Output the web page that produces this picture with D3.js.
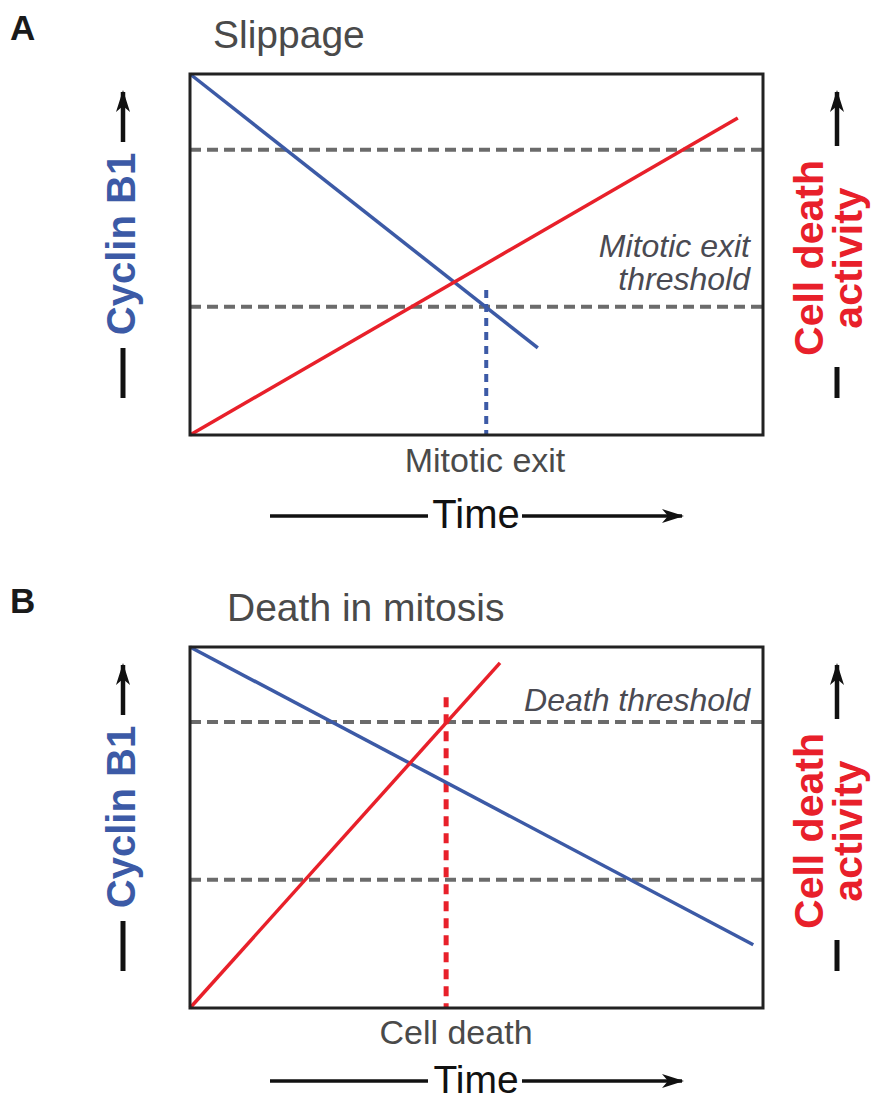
<!DOCTYPE html>
<html><head><meta charset="utf-8">
<script src="https://cdn.jsdelivr.net/npm/d3@7"></script>
<style>body{margin:0;background:#fff}svg{display:block}text{font-family:"Liberation Sans",Arial,sans-serif}</style>
</head><body><div id="chart"></div>
<script>
// ---- data ----
const panelLetters = ["A", "B"];
const panelTitles = ["Slippage", "Death in mitosis"];
const cyclinA = [[0, 100], [60.7, 24.1]];
const deathA = [[0, 0], [95.6, 87.8]];
const thresholdsA = [79, 35.5];
const markA = [[51.7, 40.2], [51.7, 0]];
const markLabelA = "Mitotic exit";
const thresholdLabelA = ["Mitotic exit", "threshold"];
const cyclinB = [[0, 100], [98.3, 17.5]];
const deathB = [[0, 0], [54.1, 95.6]];
const thresholdsB = [79.2, 35.5];
const markB = [[44.7, 86.1], [44.7, 0]];
const markLabelB = "Cell death";
const thresholdLabelB = ["Death threshold"];
const xLabel = "Time";
const yLeftLabel = ["Cyclin B1"];
const yRightLabel = ["Cell death", "activity"];

const W = 875, H = 1102;
const svg = d3.select("#chart").append("svg").attr("width", W).attr("height", H);
const BLUE = "#3c5aa6", RED = "#e8202a", GRAY = "#6b6b6b";

const defs = svg.append("defs");
defs.append("marker").attr("id", "ah").attr("viewBox", "0 0 22 20").attr("refX", 20).attr("refY", 10)
  .attr("markerWidth", 22).attr("markerHeight", 20).attr("markerUnits", "userSpaceOnUse").attr("orient", "auto")
  .append("path").attr("d", "M0,3 L22,10 L0,17 L6,10 Z").attr("fill", "#111");

const panels = [
  {top: 74, cyc: cyclinA, death: deathA, thr: thresholdsA, mark: markA, markColor: BLUE, markW: 4, markDash: "8,6",
   markLabel: markLabelA, markLabelX: 485, markLabelY: 472, thrLabel: thresholdLabelA, thrLabelY: [257, 290],
   timeY: 516, timeFont: 40, titleX: 213},
  {top: 647, cyc: cyclinB, death: deathB, thr: thresholdsB, mark: markB, markColor: RED, markW: 5, markDash: "10,7",
   markLabel: markLabelB, markLabelX: 456, markLabelY: 1044, thrLabel: thresholdLabelB, thrLabelY: [711],
   timeY: 1081, timeFont: 39, titleX: 227}
];

panels.forEach((p, i) => {
  const off = p.top - 74;
  const g = svg.append("g");
  const x = d3.scaleLinear().domain([0, 100]).range([190, 763]);
  const y = d3.scaleLinear().domain([0, 100]).range([p.top + 361, p.top]);
  const line = d3.line().x(d => x(d[0])).y(d => y(d[1]));

  // letter & title
  g.append("text").attr("x", 10).attr("y", 40 + off).attr("font-size", 35).attr("font-weight", "bold").attr("fill", "#1a1a1a").text(panelLetters[i]);
  g.append("text").attr("x", p.titleX).attr("y", 48 + off).attr("font-size", 39).attr("fill", "#4a4a4a").text(panelTitles[i]);

  // threshold dashed lines
  g.selectAll(".thr").data(p.thr).join("line")
    .attr("x1", x(0)).attr("x2", x(100)).attr("y1", d => y(d)).attr("y2", d => y(d))
    .attr("stroke", GRAY).attr("stroke-width", 4).attr("stroke-dasharray", "11,6");

  // marker vertical dashed
  g.append("path").attr("d", line(p.mark)).attr("fill", "none").attr("stroke", p.markColor)
    .attr("stroke-width", p.markW).attr("stroke-dasharray", p.markDash);

  // series
  g.append("path").attr("d", line(p.cyc)).attr("fill", "none").attr("stroke", BLUE).attr("stroke-width", 3.5);
  g.append("path").attr("d", line(p.death)).attr("fill", "none").attr("stroke", RED).attr("stroke-width", 3.5);

  // frame
  g.append("rect").attr("x", x(0)).attr("y", y(100)).attr("width", x(100) - x(0)).attr("height", y(0) - y(100))
    .attr("fill", "none").attr("stroke", "#222").attr("stroke-width", 3);

  // threshold label
  p.thrLabel.forEach((t, k) => {
    g.append("text").attr("x", 750).attr("y", p.thrLabelY[k]).attr("text-anchor", "end").attr("font-size", 32)
      .attr("font-style", "italic").attr("fill", "#4a4a52").text(t);
  });

  // mark label
  g.append("text").attr("x", p.markLabelX).attr("y", p.markLabelY).attr("text-anchor", "middle").attr("font-size", 34)
    .attr("fill", "#4a4a4a").text(p.markLabel);

  // Time axis arrow
  g.append("line").attr("x1", 270).attr("x2", 428).attr("y1", p.timeY).attr("y2", p.timeY).attr("stroke", "#111").attr("stroke-width", 3.5);
  g.append("line").attr("x1", 522).attr("x2", 682).attr("y1", p.timeY).attr("y2", p.timeY).attr("stroke", "#111").attr("stroke-width", 3.5).attr("marker-end", "url(#ah)");
  g.append("text").attr("x", 476).attr("y", p.timeY + 12).attr("text-anchor", "middle").attr("font-size", p.timeFont).attr("fill", "#111").text(xLabel);

  // left y label
  g.append("line").attr("x1", 123).attr("x2", 123).attr("y1", 142 + off).attr("y2", 92 + off).attr("stroke", "#111").attr("stroke-width", 4.5).attr("marker-end", "url(#ah)");
  g.append("line").attr("x1", 123).attr("x2", 123).attr("y1", 348 + off).attr("y2", 398 + off).attr("stroke", "#111").attr("stroke-width", 5);
  g.append("text").attr("transform", `translate(135,${244 + off}) rotate(-90)`).attr("text-anchor", "middle")
    .attr("font-size", 40).attr("font-weight", "bold").attr("fill", BLUE).text(yLeftLabel[0]);

  // right y label
  g.append("line").attr("x1", 837).attr("x2", 837).attr("y1", 146 + off).attr("y2", 92 + off).attr("stroke", "#111").attr("stroke-width", 4.5).attr("marker-end", "url(#ah)");
  g.append("line").attr("x1", 837).attr("x2", 837).attr("y1", 367 + off).attr("y2", 398 + off).attr("stroke", "#111").attr("stroke-width", 5);
  g.append("text").attr("transform", `translate(823,${258 + off}) rotate(-90)`).attr("text-anchor", "middle")
    .attr("font-size", 41).attr("font-weight", "bold").attr("fill", RED).text(yRightLabel[0]);
  g.append("text").attr("transform", `translate(862,${258 + off}) rotate(-90)`).attr("text-anchor", "middle")
    .attr("font-size", 41).attr("font-weight", "bold").attr("fill", RED).text(yRightLabel[1]);
});
</script></body></html>
